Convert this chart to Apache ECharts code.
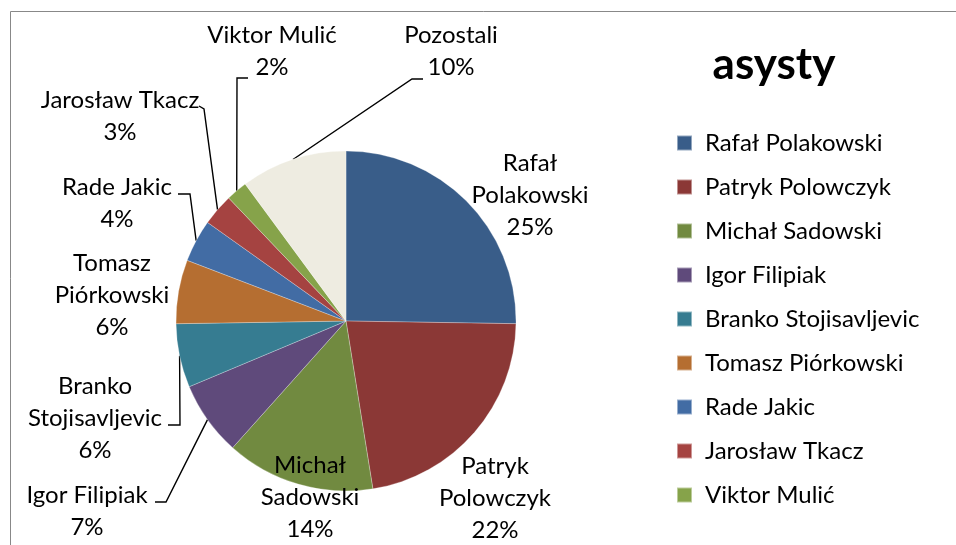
<!DOCTYPE html>
<html>
<head>
<meta charset="utf-8">
<script src="https://cdn.jsdelivr.net/npm/echarts@6/dist/echarts.min.js"></script>
<style>
html,body{margin:0;padding:0;background:#fff;}
#chart{width:956px;height:545px;}
</style>
</head>
<body>
<div id="chart"></div>
<script>
// dane
var names = ['Rafał Polakowski', 'Patryk Polowczyk', 'Michał Sadowski', 'Igor Filipiak',
    'Branko Stojisavljevic', 'Tomasz Piórkowski', 'Rade Jakic', 'Jarosław Tkacz', 'Viktor Mulić', 'Pozostali'];
var values = [25, 22, 14, 7, 6, 6, 4, 3, 2, 10];
var labelNames = ['Rafał\nPolakowski', 'Patryk\nPolowczyk', 'Michał\nSadowski', 'Igor Filipiak',
    'Branko\nStojisavljevic', 'Tomasz\nPiórkowski', 'Rade Jakic', 'Jarosław Tkacz', 'Viktor Mulić', 'Pozostali'];
var colors = ['#395D89', '#8B3836', '#718A40', '#5F4A7B', '#367C91', '#B56E31', '#426CA4', '#A54341', '#86A34A', '#EEECE1'];

// rozmieszczenie etykiet (środek tekstu) i łamanych linii
var labelPos = [[530, 195], [495, 498], [310, 497], [87, 511], [95, 418], [112, 295], [117, 203], [120, 116], [272, 51], [451, 51]];
var leaders = [null, null, null,
    [[166, 502], [155, 502]],
    [[180, 425], [168, 425]],
    null,
    [[190, 194], [178, 194]],
    [[204, 109], [199, 106]],
    [[237, 78], [248, 78]],
    [[412, 79], [423, 79]]];

var font = 'Lato, "Open Sans", sans-serif';

var pieData = [];
for (var i = 0; i < names.length; i++) {
    pieData.push({
        name: names[i],
        value: values[i],
        itemStyle: {color: colors[i]},
        labelLine: {show: leaders[i] !== null}
    });
}

var chart = echarts.init(document.getElementById('chart'));
chart.setOption({
    animation: false,
    title: {
        text: 'asysty',
        left: 769,
        top: 38,
        textAlign: 'center',
        textStyle: {fontFamily: font, fontSize: 44, fontWeight: 'bold', color: '#000'}
    },
    legend: {
        orient: 'vertical',
        left: 676,
        top: 131,
        padding: 0,
        icon: 'rect',
        itemWidth: 15,
        itemHeight: 15,
        itemGap: 20,
        data: names.slice(0, 9),
        textStyle: {fontFamily: font, fontSize: 24, color: '#000', padding: [0, 0, 0, 8]}
    },
    graphic: [{
        type: 'rect',
        shape: {x: 10.5, y: 11.5, width: 1200, height: 1000},
        style: {fill: 'none', stroke: '#888', lineWidth: 1},
        silent: true
    }],
    series: [{
        type: 'pie',
        center: [346, 321],
        radius: 170,
        startAngle: 90,
        clockwise: true,
        avoidLabelOverlap: false,
        itemStyle: {borderColor: 'rgba(255,255,255,0.45)', borderWidth: 0.6},
        label: {
            position: 'outside',
            fontFamily: font,
            fontSize: 24,
            lineHeight: 32,
            color: '#000',
            align: 'center',
            formatter: function (p) {
                return labelNames[p.dataIndex] + '\n' + Math.round(p.percent) + '%';
            }
        },
        labelLine: {lineStyle: {color: '#000', width: 1.4}},
        labelLayout: function (p) {
            var i = p.dataIndex;
            var out = {x: labelPos[i][0], y: labelPos[i][1], align: 'center', verticalAlign: 'middle'};
            if (leaders[i] && p.labelLinePoints) {
                out.labelLinePoints = [p.labelLinePoints[0], leaders[i][0], leaders[i][1]];
            }
            return out;
        },
        data: pieData
    }]
});
</script>
</body>
</html>
